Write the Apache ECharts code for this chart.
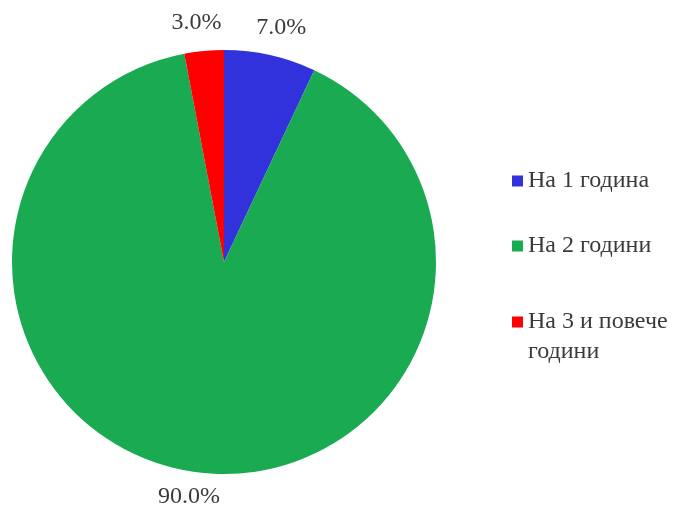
<!DOCTYPE html>
<html><head><meta charset="utf-8">
<script src="https://cdn.jsdelivr.net/npm/echarts@6/dist/echarts.min.js"></script>
<style>html,body{margin:0;padding:0;background:#fff}#c{width:681px;height:510px}</style>
</head><body><div id="c"></div>
<script>
const categories = ['На 1 година', 'На 2 години', 'На 3 и повече години'];
const values = [7.0, 90.0, 3.0];
const colors = ['#3232dc', '#1aaa52', '#fe0000'];

const font = 'Liberation Serif, Times New Roman, serif';
const chart = echarts.init(document.getElementById('c'));
const legendTops = [166, 231, 277];
const legends = categories.map((name, i) => ({
  data: [name],
  orient: 'vertical',
  left: 512,
  top: legendTops[i],
  padding: 0,
  itemWidth: 11,
  itemHeight: 11,
  icon: 'rect',
  formatter: n => n === 'На 3 и повече години' ? '\nНа 3 и повече\nгодини' : n,
  textStyle: {fontFamily: font, fontSize: 24, color: '#3a3a3a', lineHeight: 30}
}));

chart.setOption({
  animation: false,
  color: colors,
  legend: legends,
  series: [{
    type: 'pie',
    center: [224, 262],
    radius: 212,
    startAngle: 90,
    clockwise: true,
    data: categories.map((n, i) => ({name: n, value: values[i]})),
    label: {
      show: true,
      position: 'outside',
      formatter: p => p.value.toFixed(1) + '%',
      fontFamily: font, fontSize: 24, color: '#3a3a3a'
    },
    labelLine: {show: false, length: 28, length2: 0},
    labelLayout: {align: 'center', verticalAlign: 'middle'},
    emphasis: {disabled: true}
  }]
});
</script></body></html>
